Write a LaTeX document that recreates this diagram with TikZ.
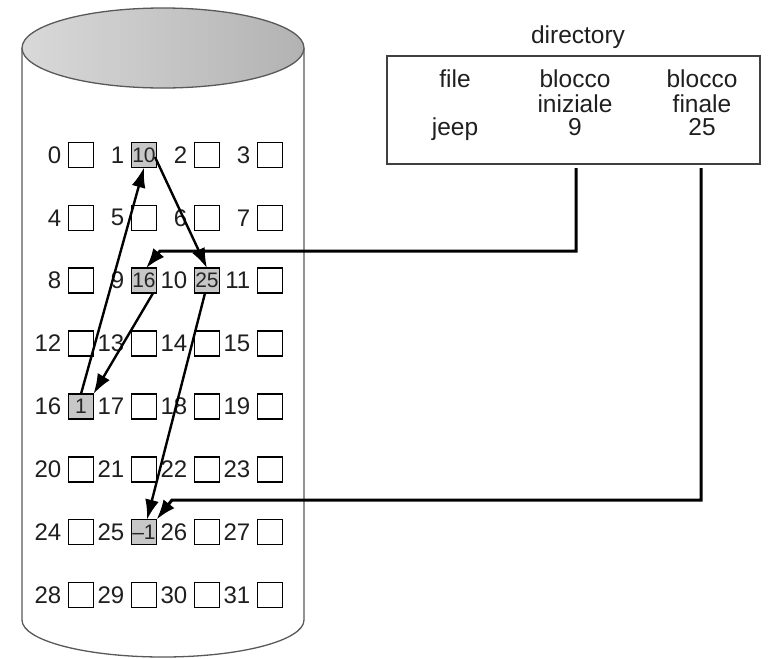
\documentclass[tikz,border=0pt]{standalone}
\usepackage{fontspec}
\setmainfont{Liberation Sans}
\usetikzlibrary{arrows.meta,calc}
\begin{document}
\begin{tikzpicture}[x=1pt,y=-1pt,
  cyl/.style={draw=black!65,line width=1.3pt},
  cell/.style={draw=black,line width=1.5pt,fill=white,minimum size=25pt,inner sep=0pt,outer sep=0pt,font=\fontsize{21}{21}\selectfont},
  used/.style={cell,fill=black!22,text=black!85},
  lab/.style={anchor=east,inner sep=0pt,font=\fontsize{24}{24}\selectfont,text=black!88},
  dtext/.style={anchor=base,inner sep=0pt,font=\fontsize{24.5}{24.5}\selectfont,text=black!88},
  tip/.style={-{Latex[length=20pt,width=14pt]}},
  arr/.style={line width=2.4pt,tip},
  conn/.style={line width=3pt,tip}]

\useasboundingbox (0,0) rectangle (769,659);

% cylinder
\fill[white] (22,48) -- (22,620) arc[start angle=180,end angle=0,x radius=141,y radius=37] -- (304,48) -- cycle;
\draw[cyl] (22,48) -- (22,620) arc[start angle=180,end angle=0,x radius=141,y radius=37] -- (304,48);
\shade[left color=black!15,middle color=black!4,right color=black!30] (163,48) ellipse [x radius=141,y radius=40];
\draw[cyl] (163,48) ellipse [x radius=141,y radius=40];

% blocks
\foreach \i in {0,...,31}{
  \pgfmathtruncatemacro\r{int(\i/4)}
  \pgfmathtruncatemacro\c{mod(\i,4)}
  \node[cell] (b\i) at ({81+63*\c},{155+62.85*\r}) {};
  \node[lab] (l\i) at ([xshift=-7pt]b\i.west) {\i};
}
\node[used] (v1) at (b1.center) {10};
\node[used] (v9) at (b9.center) {16};
\node[used] (v10) at (b10.center) {25};
\node[used] (v16) at (b16.center) {1};
\node[used] (v25) at (b25.center) {\textendash1};

% directory
\node[draw=black!75,line width=1.4pt,minimum width=373pt,minimum height=108pt,inner sep=0pt] (dir) at (573.5,110) {};
\node[dtext] (dtitle) at (578,43) {directory};
\node[dtext] (h1) at (455,87) {file};
\node[dtext] (h2a) at (575,87) {blocco};
\node[dtext] (h2b) at (575,112) {iniziale};
\node[dtext] (h3a) at (702,87) {blocco};
\node[dtext] (h3b) at (702,112) {finale};
\node[dtext] (r1) at (455,135) {jeep};
\node[dtext] (r2) at (575,135) {9};
\node[dtext] (r3) at (702,135) {25};

% directory pointers
\coordinate (s9) at (576,168);
\coordinate (s25) at (701,168);
\draw[conn] (s9) -- (576,251) -- (160,251) -- ([xshift=2pt]b9.north);
\draw[conn] (s25) -- (701,500) -- (172,500) -- (b25.north east);

% chain
\draw[arr] ([xshift=9pt]b9.south) -- (b16.north east);
\draw[arr] (b16.north) -- (b1.south);
\draw[arr] ([shift={(-1.5pt,-2pt)}]b1.east) -- (b10.north);
\draw[arr] ([xshift=-2pt]b10.south) -- ([xshift=3pt]b25.north);
\end{tikzpicture}
\end{document}
